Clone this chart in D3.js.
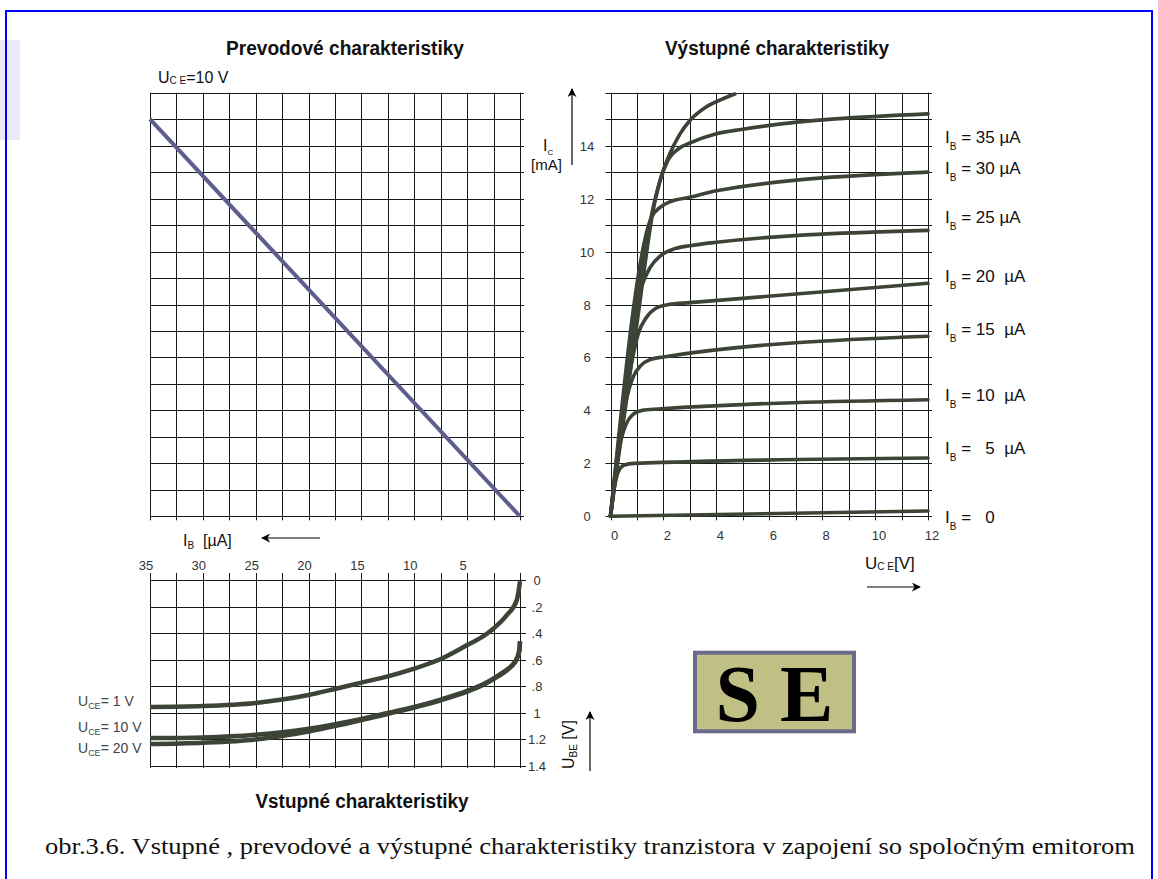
<!DOCTYPE html>
<html><head><meta charset="utf-8">
<script src="https://cdn.jsdelivr.net/npm/d3@7"></script>
<style>
body{margin:0;background:#fff;}
svg{display:block;}
text{font-family:"Liberation Sans",Arial,sans-serif;}
</style></head><body>
<svg id="c" width="1158" height="879"></svg>
<script>
// ---------------- DATA ----------------
const ibGrid = [0,2.5,5,7.5,10,12.5,15,17.5,20,22.5,25,27.5,30,32.5,35];
const ibTicks = [35,30,25,20,15,10,5];
const icGrid = [0,1,2,3,4,5,6,7,8,9,10,11,12,13,14,15,16];
const icTicks = [0,2,4,6,8,10,12,14];
const uceGrid = [0,1,2,3,4,5,6,7,8,9,10,11,12];
const uceTicks = [0,2,4,6,8,10,12];
const ubeGrid = [0,0.2,0.4,0.6,0.8,1.0,1.2,1.4];
const ubeTickLabels = ["0",".2",".4",".6",".8","1","1.2","1.4"];

// transfer characteristic IC(IB) at UCE = 10 V   [IB µA, IC mA]
const transferCurve = [[35,15],[0,0]];

// output characteristics IC(UCE)   [UCE V, IC mA]
const outSaturation = [[0,0],[0.27,2],[0.55,4],[0.82,6],[1.1,8],[1.37,10],[1.6,11.5],[1.85,12.6],[2.2,13.6],[2.6,14.4],[3.0,14.95],[3.6,15.45],[4.2,15.75],[4.7,15.95]];
const outIB0  = [[0,0],[12,0.2]];
const outIB5  = [[0,0],[0.15,1.1],[0.3,1.7],[0.5,1.93],[0.9,2.0],[12,2.2]];
const outIB10 = [[0,0],[0.4,2.9],[0.6,3.5],[0.85,3.85],[1.2,4.0],[1.8,4.05],[12,4.4]];
const outIB15 = [[0,0],[0.6,4.4],[0.85,5.25],[1.15,5.7],[1.5,5.92],[2.0,6.02],[12,6.8]];
const outIB20 = [[0,0],[0.8,5.8],[1.05,6.9],[1.35,7.5],[1.7,7.85],[2.2,8.0],[3,8.07],[12,8.8]];
const outIB25 = [[0,0],[1.2,8.75],[1.5,9.4],[1.9,9.85],[2.4,10.1],[3,10.22],[4,10.35],[12,10.8]];
const outIB30 = [[0,0],[1.55,11.3],[1.85,11.65],[2.3,11.9],[3,12.05],[4,12.3],[12,13.0]];
const outIB35 = [[0,0],[1.85,12.6],[2.2,13.5],[2.6,13.9],[3,14.1],[4,14.45],[5,14.62],[12,15.2]];
const outLabels = ["35 µA","30 µA","25 µA","20  µA","15  µA","10  µA","  5  µA","  0"];

// input characteristics UBE(IB)   [IB µA, UBE V]
const inUCE1  = [[35,0.955],[30,0.948],[25,0.925],[22.5,0.9],[20,0.865],[17.5,0.82],[15,0.772],[12.5,0.725],[10,0.667],[7.5,0.595],[5,0.49],[3.5,0.425],[2.5,0.365],[1.25,0.265],[0.3,0.15],[0,0.01]];
const inUCE10 = [[35,1.19],[30,1.185],[25,1.165],[20,1.12],[17.5,1.085],[15,1.045],[12.5,1.0],[10,0.955],[7.5,0.9],[5,0.835],[3.5,0.785],[2.5,0.74],[1.5,0.69],[0.8,0.645],[0.3,0.59],[0.05,0.52],[0,0.46]];
const inUCE20 = [[35,1.235],[30,1.225],[25,1.2],[20,1.14],[17.5,1.1],[15,1.055],[12.5,1.008],[10,0.96],[7.5,0.905],[5,0.84],[3.5,0.79],[2.5,0.745],[1.5,0.695],[0.8,0.65],[0.3,0.595],[0.05,0.53],[0,0.47]];
const inLabels = ["1 V","10 V","20 V"];

// ---------------- LAYOUT ----------------
const outLabelY = [137,168,217,276,329,395,448,517];
const inLabelY = [700,726,747];
const curveColor = "#3c4437";
const gridColor = "#1a1a1a";

const svg = d3.select("#c");

// frame
svg.append("rect").attr("x",0).attr("y",40).attr("width",20).attr("height",100).attr("fill","#e9e9f7");
svg.append("rect").attr("x",6).attr("y",11).attr("width",1146).attr("height",900)
  .attr("fill","none").attr("stroke","#0000ff").attr("stroke-width",2);

// scales
const xIB = d3.scaleLinear().domain([35,0]).range([150,520]);
const yIC = d3.scaleLinear().domain([0,16]).range([516.3,92.7]);
const xUCE = d3.scaleLinear().domain([0,12]).range([610.5,928]);
const yUBE = d3.scaleLinear().domain([0,1.4]).range([580,766]);

function vlines(g, vals, xs, y1, y2){
  g.selectAll(null).data(vals).join("line")
   .attr("x1",d=>Math.round(xs(d))+0.5).attr("x2",d=>Math.round(xs(d))+0.5)
   .attr("y1",y1).attr("y2",y2).attr("stroke",gridColor).attr("stroke-width",1);
}
function hlines(g, vals, ys, x1, x2){
  g.selectAll(null).data(vals).join("line")
   .attr("y1",d=>Math.round(ys(d))+0.5).attr("y2",d=>Math.round(ys(d))+0.5)
   .attr("x1",x1).attr("x2",x2).attr("stroke",gridColor).attr("stroke-width",1);
}

// ---- transfer (top-left) grid
const gT = svg.append("g");
vlines(gT, ibGrid, xIB, yIC(16), yIC(0)+4);
hlines(gT, icGrid, yIC, xIB(35), xIB(0)+4);

// ---- output (right) grid
const gO = svg.append("g");
vlines(gO, uceGrid, xUCE, yIC(16), yIC(0)+4);
hlines(gO, icGrid, yIC, xUCE(0)-5, xUCE(12)+4);

// ---- input (bottom-left) grid
const gI = svg.append("g");
vlines(gI, ibGrid, xIB, yUBE(0)-7, yUBE(1.4)+2);
hlines(gI, ubeGrid, yUBE, xIB(35), xIB(0)+6);

// ---- tick labels
const tickStyle = s => s.attr("font-size",13).attr("fill","#333").attr("text-anchor","middle");
svg.append("g").selectAll(null).data(icTicks).join("text")
  .attr("x",587).attr("y",d=>yIC(d)+5).text(d=>d).call(tickStyle);
svg.append("g").selectAll(null).data(uceTicks).join("text")
  .attr("x",d=>xUCE(d)+4).attr("y",540).text(d=>d).call(tickStyle);
svg.append("g").selectAll(null).data(ibTicks).join("text")
  .attr("x",d=>xIB(d)-4).attr("y",570).text(d=>d).call(tickStyle);
svg.append("g").selectAll(null).data(ubeGrid).join("text")
  .attr("x",537).attr("y",d=>yUBE(d)+5).text((d,i)=>ubeTickLabels[i]).call(tickStyle);

// ---- curves
const lineOut = d3.line().x(d=>xUCE(d[0])).y(d=>yIC(d[1])).curve(d3.curveMonotoneX);
const lineTr = d3.line().x(d=>xIB(d[0])).y(d=>yIC(d[1]));
const lineIn = d3.line().x(d=>xIB(d[0])).y(d=>yUBE(d[1])).curve(d3.curveMonotoneX);

svg.append("path").attr("d",lineTr([...transferCurve])).attr("fill","none")
  .attr("stroke","#5d5d8f").attr("stroke-width",4);

const outSeries = [outIB0,outIB5,outIB10,outIB15,outIB20,outIB25,outIB30,outIB35,outSaturation];
svg.append("g").selectAll(null).data(outSeries).join("path")
  .attr("d",d=>lineOut(d)).attr("fill","none").attr("stroke",curveColor)
  .attr("stroke-width",3.6).attr("stroke-linecap","round");

const inSeries = [inUCE1,inUCE10,inUCE20];
svg.append("g").selectAll(null).data(inSeries).join("path")
  .attr("d",d=>lineIn(d)).attr("fill","none").attr("stroke",curveColor)
  .attr("stroke-width",4.5);

// ---- output labels (I_B = ...)
const gl = svg.append("g");
outLabels.forEach((lab,i)=>{
  const t = gl.append("text").attr("x",945).attr("y",outLabelY[i]+6).attr("font-size",17).attr("fill","#111")
    .attr("xml:space","preserve");
  t.append("tspan").text("I");
  t.append("tspan").attr("font-size",10).attr("dy",7).text("B");
  t.append("tspan").attr("dy",-7).text(" = "+lab);
});

// ---- input labels
inLabels.forEach((lab,i)=>{
  const t = svg.append("text").attr("x",78).attr("y",inLabelY[i]+6).attr("font-size",14).attr("fill","#444")
    .attr("xml:space","preserve");
  t.append("tspan").text("U");
  t.append("tspan").attr("font-size",9).attr("dy",3).text("CE");
  t.append("tspan").attr("dy",-3).text("= "+lab);
});

// ---- titles
const title = (x,y,s,w)=>svg.append("text").attr("x",x).attr("y",y).attr("text-anchor","middle")
  .attr("font-size",20).attr("font-weight","bold").attr("fill","#111")
  .attr("textLength",w).attr("lengthAdjust","spacingAndGlyphs").text(s);
title(345,55,"Prevodové charakteristiky",238);
title(777,55,"Výstupné charakteristiky",224);
title(362,808,"Vstupné charakteristiky",213);

// U_CE = 10 V
{
  const t = svg.append("text").attr("x",158).attr("y",83).attr("font-size",16).attr("fill","#111");
  t.append("tspan").text("U");
  t.append("tspan").attr("font-size",10).attr("dy",1).text("C E");
  t.append("tspan").attr("dy",-1).text("=10 V");
}
// I_B [µA] with left arrow
{
  const t = svg.append("text").attr("x",183).attr("y",546).attr("font-size",16).attr("fill","#111")
    .attr("xml:space","preserve");
  t.append("tspan").text("I");
  t.append("tspan").attr("font-size",10).attr("dy",3).text("B");
  t.append("tspan").attr("dy",-3).text("  [µA]");
}
const defs = svg.append("defs");
defs.append("marker").attr("id","ah").attr("viewBox","0 0 10 10").attr("refX",9).attr("refY",5)
  .attr("markerWidth",9).attr("markerHeight",9).attr("markerUnits","userSpaceOnUse").attr("orient","auto")
  .append("path").attr("d","M0,0 L10,5 L0,10 L3,5 Z").attr("fill","#000");
const arrow = (x1,y1,x2,y2)=>svg.append("line").attr("x1",x1).attr("y1",y1).attr("x2",x2).attr("y2",y2)
  .attr("stroke","#000").attr("stroke-width",1.2).attr("marker-end","url(#ah)");
arrow(320,538,262,538);
// I_C [mA]
{
  const t = svg.append("text").attr("x",543).attr("y",151).attr("font-size",16).attr("fill","#111");
  t.append("tspan").text("I");
  t.append("tspan").attr("font-size",8).attr("dy",4).text("C");
  svg.append("text").attr("x",531).attr("y",170).attr("font-size",15).attr("fill","#111").text("[mA]");
}
arrow(572,165,572,89);
// U_CE[V]
{
  const t = svg.append("text").attr("x",865).attr("y",569).attr("font-size",17).attr("fill","#111");
  t.append("tspan").text("U");
  t.append("tspan").attr("font-size",10).attr("dy",1).text("C E");
  t.append("tspan").attr("dy",-1).text("[V]");
}
arrow(867,587,920,587);
// U_BE [V] vertical
{
  const t = svg.append("text").attr("transform","translate(574,769) rotate(-90)").attr("font-size",16).attr("fill","#111")
    .attr("xml:space","preserve");
  t.append("tspan").text("U");
  t.append("tspan").attr("font-size",10).attr("dy",3).text("BE");
  t.append("tspan").attr("dy",-3).text(" [V]");
}
arrow(590,771,590,712);

// SE box
svg.append("rect").attr("x",695).attr("y",652.7).attr("width",159).attr("height",78.6)
  .attr("fill","#c0c084").attr("stroke","#6a6a8c").attr("stroke-width",4);
svg.append("text").attr("x",774.5).attr("y",721).attr("text-anchor","middle")
  .style("font-family","'Liberation Serif','Times New Roman',serif")
  .attr("font-weight","bold").attr("font-size",80).attr("fill","#000").text("S E");

// caption
svg.append("text").attr("x",45).attr("y",854).style("font-family","'Liberation Serif','Times New Roman',serif")
  .attr("font-size",24).attr("fill","#111").attr("textLength",1090).attr("lengthAdjust","spacingAndGlyphs")
  .text("obr.3.6. Vstupné , prevodové a výstupné charakteristiky tranzistora v zapojení so spoločným emitorom");
</script>
</body></html>
